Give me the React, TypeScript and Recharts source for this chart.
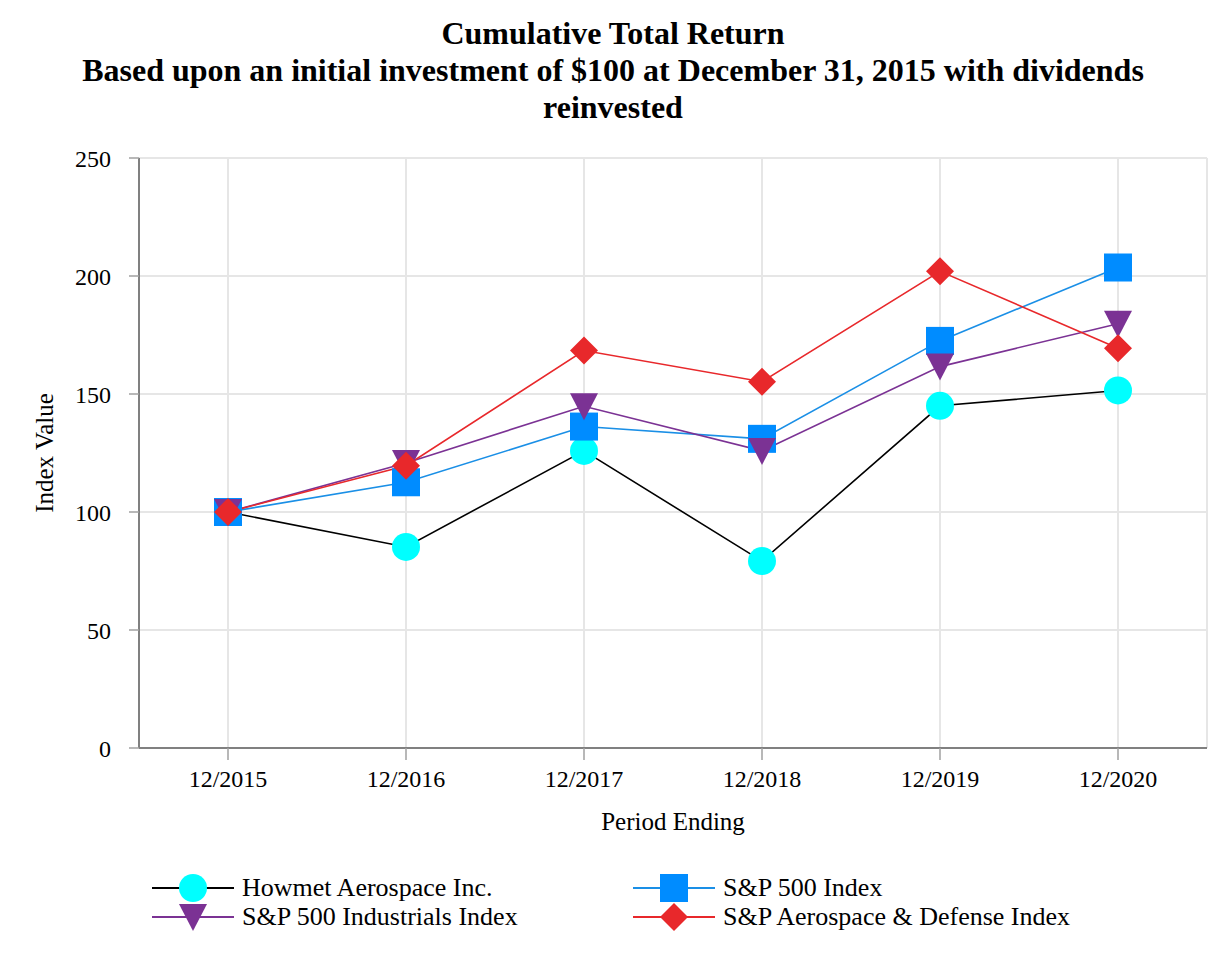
import React from 'react';
import { LineChart, Line, XAxis, YAxis, CartesianGrid, Label } from 'recharts';

const periods = ['12/2015', '12/2016', '12/2017', '12/2018', '12/2019', '12/2020'];
const howmet = [100, 85.2, 125.9, 79.2, 145.0, 151.5];
const sp500 = [100, 112.6, 136.2, 131.0, 172.5, 203.6];
const industrials = [100, 120.8, 144.8, 125.9, 161.6, 179.8];
const aerospace = [100, 119.6, 168.4, 155.2, 202.0, 169.4];
const yTicks = [0, 50, 100, 150, 200, 250];

const data = periods.map((period, i) => ({
  period,
  howmet: howmet[i],
  sp500: sp500[i],
  industrials: industrials[i],
  aerospace: aerospace[i],
}));

const FONT = '"Liberation Serif", "Times New Roman", serif';

type Shape = 'circle' | 'square' | 'triangle' | 'diamond';

function marker(shape: Shape, fill: string, cx: number, cy: number, key?: string) {
  if (shape === 'circle') return <circle key={key} cx={cx} cy={cy} r={14} fill={fill} />;
  if (shape === 'square') return <rect key={key} x={cx - 14} y={cy - 14} width={28} height={28} fill={fill} />;
  if (shape === 'triangle')
    return <polygon key={key} points={`${cx - 14},${cy - 13} ${cx + 14},${cy - 13} ${cx},${cy + 14}`} fill={fill} />;
  return <polygon key={key} points={`${cx},${cy - 14} ${cx + 14},${cy} ${cx},${cy + 14} ${cx - 14},${cy}`} fill={fill} />;
}

const series = [
  { key: 'howmet', name: 'Howmet Aerospace Inc.', line: '#000000', fill: '#00ffff', shape: 'circle' as Shape },
  { key: 'sp500', name: 'S&P 500 Index', line: '#1a8fe6', fill: '#008cff', shape: 'square' as Shape },
  { key: 'industrials', name: 'S&P 500 Industrials Index', line: '#7b3294', fill: '#7b3294', shape: 'triangle' as Shape },
  { key: 'aerospace', name: 'S&P Aerospace & Defense Index', line: '#e8282b', fill: '#e8282b', shape: 'diamond' as Shape },
];

function LegendItem({ s }: { s: (typeof series)[number] }) {
  return (
    <div style={{ display: 'flex', alignItems: 'center', height: 29 }}>
      <svg width={82} height={30} style={{ marginRight: 8 }}>
        <line x1={0} y1={15} x2={82} y2={15} stroke={s.line} strokeWidth={2} />
        {marker(s.shape, s.fill, 41, 15)}
      </svg>
      <span style={{ fontSize: 26, whiteSpace: 'nowrap' }}>{s.name}</span>
    </div>
  );
}

export default function App() {
  return (
    <div style={{ position: 'absolute', left: 0, top: 0, width: 1226, height: 960, background: '#fff', fontFamily: FONT }}>
      <div
        style={{
          position: 'absolute',
          top: 15,
          left: 0,
          width: 1226,
          textAlign: 'center',
          fontWeight: 'bold',
          fontSize: 32,
          lineHeight: '37px',
        }}
      >
        Cumulative Total Return
        <br />
        Based upon an initial investment of $100 at December 31, 2015 with dividends
        <br />
        reinvested
      </div>
      <div style={{ position: 'absolute', left: 0, top: 0 }}>
        <LineChart
          width={1226}
          height={860}
          data={data}
          margin={{ top: 158, right: 19, left: 0, bottom: 52 }}
          style={{ fontFamily: FONT }}
        >
          <CartesianGrid stroke="#e6e6e6" strokeWidth={2} />
          <XAxis
            dataKey="period"
            padding={{ left: 89, right: 89 }}
            height={60}
            stroke="#808080"
            strokeWidth={2}
            tickSize={12}
            tickMargin={10}
            tick={{ fill: '#000', fontSize: 24 }}
            tickLine={{ stroke: '#a0a0a0', strokeWidth: 1.5 }}
          >
            <Label value="Period Ending" position="insideBottom" offset={-22} style={{ fill: '#000', fontSize: 25 }} />
          </XAxis>
          <YAxis
            domain={[0, 250]}
            ticks={yTicks}
            width={139}
            stroke="#808080"
            strokeWidth={2}
            tickSize={10}
            tickMargin={18}
            tick={{ fill: '#000', fontSize: 24 }}
            tickLine={{ stroke: '#a0a0a0', strokeWidth: 1.5 }}
          >
            <Label value="Index Value" angle={-90} position="insideLeft" offset={44} style={{ fill: '#000', fontSize: 25, textAnchor: 'middle' }} />
          </YAxis>
          {series.map((s) => (
            <Line
              key={s.key}
              dataKey={s.key}
              name={s.name}
              stroke={s.line}
              strokeWidth={1.6}
              isAnimationActive={false}
              activeDot={false}
              dot={(p: any) => marker(s.shape, s.fill, p.cx, p.cy, `${s.key}-${p.index}`)}
            />
          ))}
        </LineChart>
      </div>
      <div style={{ position: 'absolute', top: 873, left: 152 }}>
        <LegendItem s={series[0]} />
        <LegendItem s={series[2]} />
      </div>
      <div style={{ position: 'absolute', top: 873, left: 633 }}>
        <LegendItem s={series[1]} />
        <LegendItem s={series[3]} />
      </div>
    </div>
  );
}
